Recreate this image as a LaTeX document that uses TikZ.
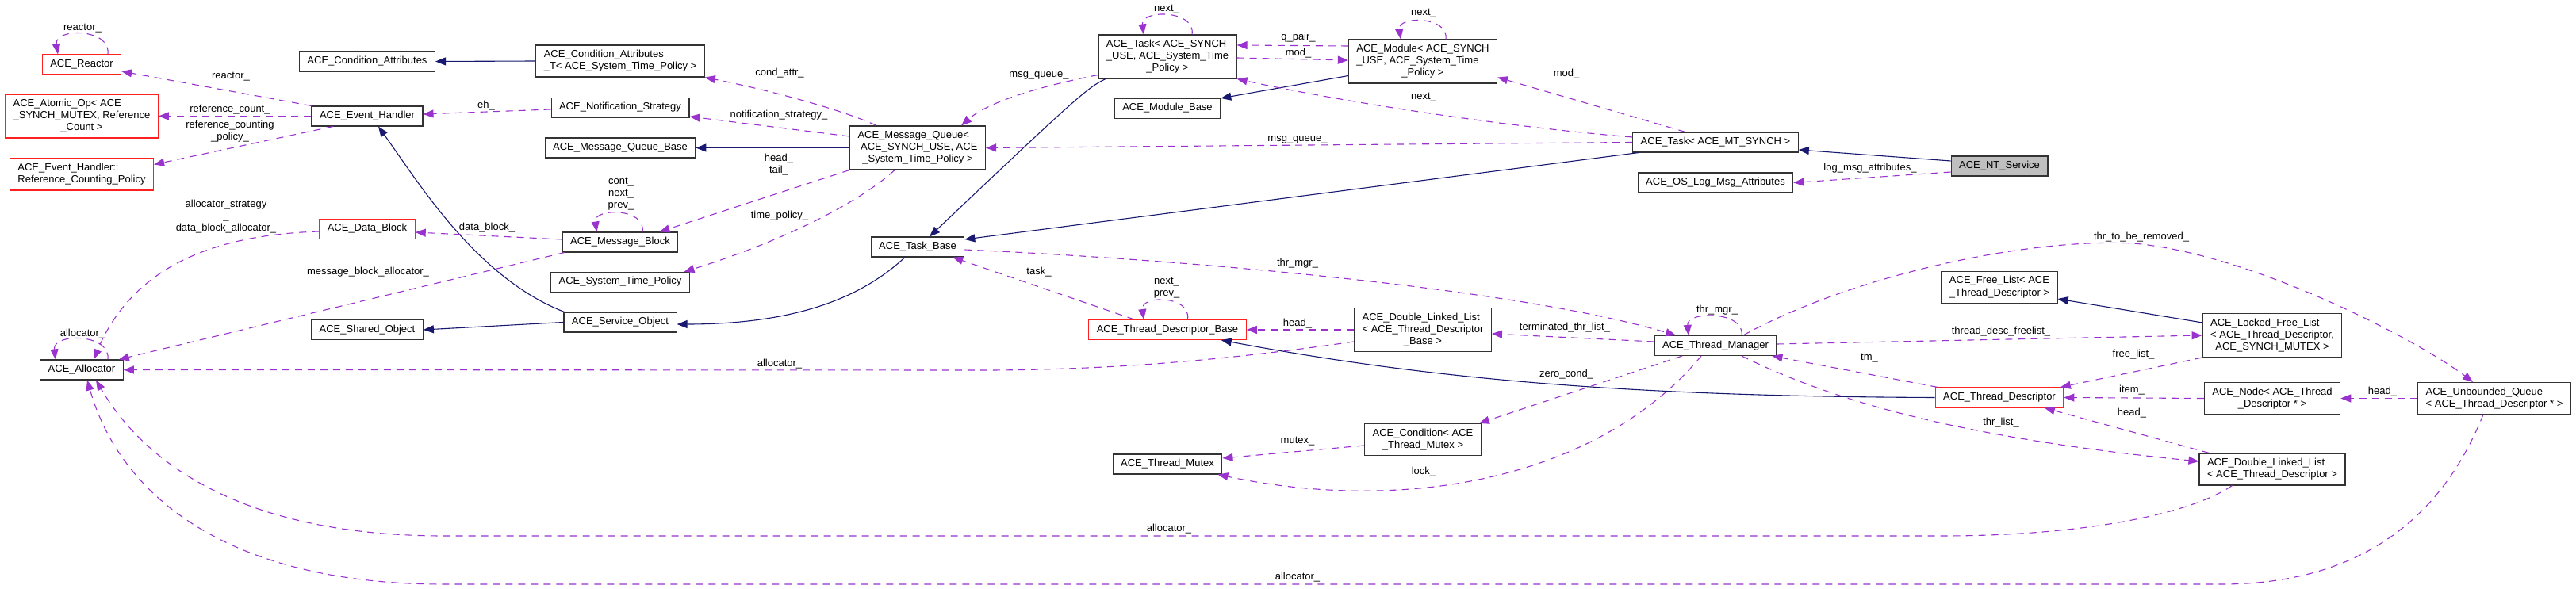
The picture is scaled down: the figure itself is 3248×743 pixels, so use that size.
\documentclass[tikz,border=0pt]{standalone}
\usepackage{fontspec}
\setmainfont{Liberation Sans}
\usetikzlibrary{arrows.meta}
\definecolor{inhblue}{HTML}{191970}
\definecolor{usepurple}{HTML}{9A32CD}
\definecolor{boxred}{HTML}{FF2020}
\newcommand{\ml}[1]{\begin{tabular}{@{}l@{}}#1\end{tabular}}
\newcommand{\lc}[1]{\multicolumn{1}{@{}c@{}}{#1}}
\tikzset{
  cls/.style={draw=black!80, fill=white, line width=1.1pt, inner xsep=10pt, inner ysep=5pt, execute at begin node=\strut},
  trunc/.style={cls, draw=boxred},
  cur/.style={cls, fill=black!25},
  inh/.style={draw=inhblue, line width=1.1pt, -{Triangle[length=13pt,width=10pt]}},
  use/.style={draw=usepurple, line width=1.1pt, dash pattern=on 9pt off 7pt, -{Triangle[length=13pt,width=10pt]}},
  lbl/.style={inner sep=0pt, align=center}
}
\begin{document}
\begin{tikzpicture}[x=1pt, y=-1pt, font=\fontsize{13}{15}\selectfont]

            \useasboundingbox (0,0) rectangle (3248,743);

            \node[trunc] (reactor) at (103,81.5) {ACE\_Reactor};
            \node[trunc] (atomicop) at (103,146.5) {\ml{ACE\_Atomic\_Op< ACE\\\_SYNCH\_MUTEX, Reference\\\lc{\_Count >}}};
            \node[trunc] (refpolicy) at (103,220) {\ml{ACE\_Event\_Handler::\\\lc{Reference\_Counting\_Policy}}};
            \node[cls] (allocator) at (103,466.5) {ACE\_Allocator};
            \node[cls] (condattr) at (463,77.5) {ACE\_Condition\_Attributes};
            \node[cls] (evhandler) at (463,146.5) {ACE\_Event\_Handler};
            \node[trunc] (datablock) at (463,289) {ACE\_Data\_Block};
            \node[cls] (sharedobj) at (463,416) {ACE\_Shared\_Object};
            \node[cls] (condattrt) at (782,77) {\ml{ACE\_Condition\_Attributes\\\lc{\_T< ACE\_System\_Time\_Policy >}}};
            \node[cls] (notifstrat) at (782,136) {ACE\_Notification\_Strategy};
            \node[cls] (mqbase) at (782,186.5) {ACE\_Message\_Queue\_Base};
            \node[cls] (msgblock) at (782,305.5) {ACE\_Message\_Block};
            \node[cls] (timepolicy) at (782,356) {ACE\_System\_Time\_Policy};
            \node[cls] (svcobj) at (782,406.5) {ACE\_Service\_Object};
            \node[cls] (msgqueue) at (1157,186.5) {\ml{ACE\_Message\_Queue<\\\hspace{3.6pt}ACE\_SYNCH\_USE, ACE\\\lc{\_System\_Time\_Policy >}}};
            \node[cls] (taskbase) at (1157,311.5) {ACE\_Task\_Base};
            \node[cls] (tasksynch) at (1472,71.5) {\ml{ACE\_Task< ACE\_SYNCH\\\_USE, ACE\_System\_Time\\\lc{\_Policy >}}};
            \node[cls] (modbase) at (1472,137) {ACE\_Module\_Base};
            \node[trunc] (tdbase) at (1472,416) {ACE\_Thread\_Descriptor\_Base};
            \node[cls] (tmutex) at (1472,585.5) {ACE\_Thread\_Mutex};
            \node[cls] (module) at (1794,77.5) {\ml{ACE\_Module< ACE\_SYNCH\\\_USE, ACE\_System\_Time\\\lc{\_Policy >}}};
            \node[cls] (dlltdbase) at (1794,416) {\ml{ACE\_Double\_Linked\_List\\< ACE\_Thread\_Descriptor\\\lc{\_Base >}}};
            \node[cls] (condmutex) at (1794,554.5) {\ml{ACE\_Condition< ACE\\\lc{\_Thread\_Mutex >}}};
            \node[cls] (taskmt) at (2163,179.5) {ACE\_Task< ACE\_MT\_SYNCH >};
            \node[cls] (oslog) at (2163,230.5) {ACE\_OS\_Log\_Msg\_Attributes};
            \node[cls] (thrmgr) at (2163,436) {ACE\_Thread\_Manager};
            \node[cur] (ntservice) at (2521,209.5) {ACE\_NT\_Service};
            \node[cls] (freelist) at (2521,362.5) {\ml{ACE\_Free\_List< ACE\\\lc{\_Thread\_Descriptor >}}};
            \node[trunc] (thrdesc) at (2521,501.5) {ACE\_Thread\_Descriptor};
            \node[cls] (lockedfl) at (2865,423) {\ml{ACE\_Locked\_Free\_List\\< ACE\_Thread\_Descriptor,\\\lc{ACE\_SYNCH\_MUTEX >}}};
            \node[cls] (nodetd) at (2865,502.5) {\ml{ACE\_Node< ACE\_Thread\\\lc{\_Descriptor * >}}};
            \node[cls] (dlltdesc) at (2865,592) {\ml{ACE\_Double\_Linked\_List\\\lc{< ACE\_Thread\_Descriptor >}}};
            \node[cls] (unbqueue) at (3145,502.5) {\ml{ACE\_Unbounded\_Queue\\\lc{< ACE\_Thread\_Descriptor * >}}};

            \draw[inh] (condattrt.west) -- (condattr.east);
            \draw[inh] (msgqueue.west) -- (mqbase.east);
            \draw[inh] (svcobj.west) -- (sharedobj.east);
            \draw[inh] ([xshift=1pt]svcobj.north west) .. controls (600,350) and (527,229) .. ([xshift=14pt]evhandler.south);
            \draw[inh] ([xshift=-16pt]taskbase.south) .. controls (1090,372) and (1010,409) .. ([yshift=-2.5pt]svcobj.east);
            \draw[inh] ([xshift=-78pt]tasksynch.south) .. controls (1372,110) and (1360,120) .. ([xshift=15pt]taskbase.north);
            \draw[inh] ([yshift=10pt]module.south west) -- (modbase.north east);
            \draw[inh] ([xshift=8pt]taskmt.south west) -- ([yshift=9.5pt]taskbase.east);
            \draw[inh] ([yshift=6.5pt]ntservice.west) -- ([yshift=-9.5pt]taskmt.east);
            \draw[inh] (thrdesc.west) .. controls (2050,500) and (1800,478) .. ([xshift=-32pt]tdbase.south east);
            \draw[inh] ([yshift=-12pt]lockedfl.north west) -- ([yshift=6pt]freelist.south east);

            \draw[use] ([xshift=33pt]reactor.north) .. controls (140,35) and (68,35) .. ([xshift=-30pt]reactor.north)
                node[lbl] (lreactora) at (104,36) {reactor\_};
            \draw[use] (evhandler.north west) -- ([yshift=-8.5pt]reactor.east)
                node[lbl] (lreactorb) at (291,97) {reactor\_};
            \draw[use] (evhandler.west) -- (atomicop.east)
                node[lbl] (lrefcount) at (290,138) {reference\_count\_};
            \draw[use] ([xshift=-43pt]evhandler.south) -- ([yshift=-8pt]refpolicy.north east)
                node[lbl] (lrefpolicy) at (290,166) {reference\_counting\\\_policy\_};
            \draw[use] ([yshift=-2pt]notifstrat.west) -- ([yshift=2.5pt]evhandler.east)
                node[lbl] (leh) at (613,133) {eh\_};
            \draw[use] ([xshift=-52pt]msgqueue.north) .. controls (1080,146) and (1000,120) .. (condattrt.south east)
                node[lbl] (lcondattr) at (983,92) {cond\_attr\_};
            \draw[use] ([yshift=14.5pt]msgqueue.west) -- ([yshift=-11pt]notifstrat.east)
                node[lbl] (lnotif) at (982,145) {notification\_strategy\_};
            \draw[use] (msgqueue.south west) -- ([xshift=-24pt]msgblock.north east)
                node[lbl] (lheadtail) at (982,208) {head\_\\tail\_};
            \draw[use] ([xshift=-29pt]msgqueue.south) .. controls (1090,250) and (1000,300) .. ([xshift=-7.5pt]timepolicy.north east)
                node[lbl] (ltimepolicy) at (983,272) {time\_policy\_};
            \draw[use] ([xshift=28pt]msgblock.north) .. controls (815,262) and (748,262) .. ([xshift=-29.5pt]msgblock.north)
                node[lbl] (lcont) at (783,245) {cont\_\\next\_\\prev\_};
            \draw[use] ([yshift=3.5pt]msgblock.west) -- ([yshift=-4pt]datablock.east)
                node[lbl] (ldatablock) at (614,287) {data\_block\_};
            \draw[use] ([xshift=3pt]msgblock.south west) -- ([xshift=-6pt]allocator.north east)
                node[lbl] (lmballoc) at (464,343) {message\_block\_allocator\_};
            \draw[use] ([yshift=-3pt]datablock.west) .. controls (280,296) and (170,330) .. ([xshift=15pt]allocator.north)
                node[lbl] (ldballoc) at (285,273) {allocator\_strategy\\\_\\data\_block\_allocator\_};
            \draw[use] ([xshift=33pt]allocator.north) .. controls (140,420) and (66,420) .. ([xshift=-33pt]allocator.north)
                node[lbl] (lalloca) at (104,421) {allocator\_};
            \draw[use] ([yshift=-15pt]dlltdbase.west) .. controls (1560,452) and (1420,466) .. (1250,467) -- (allocator.east)
                node[lbl] (lallocb) at (983,459) {allocator\_};
            \draw[use] (dlltdbase.west) -- (tdbase.east)
                node[lbl] (lheada) at (1636,408) {head\_};
            \draw[use] ([xshift=25.5pt]tdbase.north) .. controls (1502,372) and (1438,372) .. ([xshift=-30pt]tdbase.north)
                node[lbl] (lnextprev) at (1471,363) {next\_\\prev\_};
            \draw[use] ([xshift=-42pt]tdbase.north) -- ([xshift=-15pt]taskbase.south east)
                node[lbl] (ltask) at (1310,343) {task\_};
            \draw[use] ([yshift=-3.5pt]taskbase.east) .. controls (1450,325) and (1900,360) .. ([xshift=27.5pt]thrmgr.north west)
                node[lbl] (lthrmgra) at (1636,332) {thr\_mgr\_};
            \draw[use] ([xshift=33pt]thrmgr.north) .. controls (2200,392) and (2126,392) .. ([xshift=-34pt]thrmgr.north)
                node[lbl] (lthrmgrb) at (2165,391) {thr\_mgr\_};
            \draw[use] ([yshift=5pt]thrmgr.west) -- ([yshift=-5pt]dlltdbase.east)
                node[lbl] (lterminated) at (1973,413) {terminated\_thr\_list\_};
            \draw[use] ([xshift=-42pt]thrmgr.south) -- ([xshift=-3pt]condmutex.north east)
                node[lbl] (lzerocond) at (1975,472) {zero\_cond\_};
            \draw[use] ([yshift=-7.5pt]condmutex.west) -- ([yshift=7.5pt]tmutex.east)
                node[lbl] (lmutex) at (1636,557) {mutex\_};
            \draw[use] ([xshift=-18pt]thrmgr.south) .. controls (2020,600) and (1780,650) .. ([xshift=-6pt]tmutex.south east)
                node[lbl] (llock) at (1795,595) {lock\_};
            \draw[use] ([yshift=2pt]thrmgr.east) -- (lockedfl.west)
                node[lbl] (ldescfree) at (2523,418) {thread\_desc\_freelist\_};
            \draw[use] ([xshift=35pt]thrmgr.north) .. controls (2330,350) and (2550,300) .. (2690,307)
                .. controls (2840,320) and (3050,430) .. ([xshift=-27pt]unbqueue.north)
                node[lbl] (lremoved) at (2700,299) {thr\_to\_be\_removed\_};
            \draw[use] ([xshift=3.5pt]thrdesc.north west) -- ([xshift=-6pt]thrmgr.south east)
                node[lbl] (ltm) at (2357,452) {tm\_};
            \draw[use] ([xshift=33pt]thrmgr.south) .. controls (2300,500) and (2450,550) .. ([yshift=10pt]dlltdesc.west)
                node[lbl] (lthrlist) at (2523,533) {thr\_list\_};
            \draw[use] (lockedfl.south west) -- ([xshift=-4.5pt]thrdesc.north east)
                node[lbl] (lfreelist) at (2690,447) {free\_list\_};
            \draw[use] (nodetd.west) -- (thrdesc.east)
                node[lbl] (litem) at (2688,492) {item\_};
            \draw[use] ([xshift=13pt]dlltdesc.north west) -- ([xshift=-24.5pt]thrdesc.south east)
                node[lbl] (lheadb) at (2688,521) {head\_};
            \draw[use] ([xshift=42pt]dlltdesc.south west) .. controls (2760,650) and (2620,676) .. (2450,676) -- (560,676)
                .. controls (300,676) and (180,580) .. ([xshift=18pt]allocator.south)
                node[lbl] (lallocc) at (1474,667) {allocator\_};
            \draw[use] (unbqueue.west) -- (nodetd.east)
                node[lbl] (lheadc) at (3004,494) {head\_};
            \draw[use] ([xshift=-14pt]unbqueue.south) .. controls (3080,650) and (2980,737) .. (2800,737) -- (560,737)
                .. controls (280,737) and (150,620) .. ([xshift=7pt]allocator.south)
                node[lbl] (lallocd) at (1636,728) {allocator\_};
            \draw[use] ([xshift=31pt]tasksynch.north) .. controls (1508,12) and (1438,12) .. ([xshift=-30pt]tasksynch.north)
                node[lbl] (lnexta) at (1471,12) {next\_};
            \draw[use] ([yshift=5pt]tasksynch.south west) .. controls (1330,105) and (1250,125) .. ([xshift=55pt]msgqueue.north)
                node[lbl] (lmsgqa) at (1310,95) {msg\_queue\_};
            \draw[use] ([yshift=19.5pt]module.west) -- ([yshift=14.5pt]tasksynch.east)
                node[lbl] (lqpair) at (1637,47) {q\_pair\_};
            \draw[use] ([yshift=-1.5pt]tasksynch.east) -- ([yshift=1.5pt]module.west)
                node[lbl] (lmoda) at (1637,67) {mod\_};
            \draw[use] ([xshift=29pt]module.north) .. controls (1827,20) and (1762,20) .. ([xshift=-28pt]module.north)
                node[lbl] (lnextb) at (1795,17) {next\_};
            \draw[use] ([xshift=-38pt]taskmt.north) -- ([yshift=8pt]module.south east)
                node[lbl] (lmodb) at (1975,93) {mod\_};
            \draw[use] ([yshift=6.5pt]taskmt.west) .. controls (1900,160) and (1700,130) .. (tasksynch.south east)
                node[lbl] (lnextc) at (1795,123) {next\_};
            \draw[use] (taskmt.west) -- (msgqueue.east)
                node[lbl] (lmsgqb) at (1636,176) {msg\_queue\_};
            \draw[use] ([yshift=-7.5pt]ntservice.west) -- (oslog.east)
                node[lbl] (llogmsg) at (2358,212) {log\_msg\_attributes\_};
\end{tikzpicture}
\end{document}
